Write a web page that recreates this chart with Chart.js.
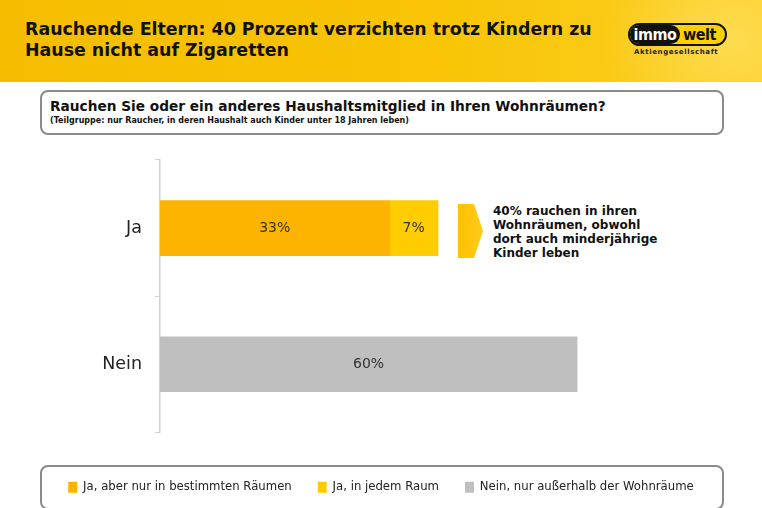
<!DOCTYPE html>
<html>
<head>
<meta charset="utf-8">
<script src="https://cdn.jsdelivr.net/npm/chart.js@4"></script>
<style>
  html, body { margin: 0; padding: 0; background: #fff; }
  #wrap { position: relative; width: 762px; height: 508px; overflow: hidden; font-family: "DejaVu Sans", sans-serif; }
  #header { position: absolute; left: 0; top: 0; width: 762px; height: 82px;
    background:
      radial-gradient(ellipse 130px 110px at 730px 40px, rgba(255,232,120,0.55), rgba(255,232,120,0) 100%),
      linear-gradient(90deg, #F6BD00 0%, #F8C404 55%, #FBCE22 100%); }
  #title { position: absolute; left: 25px; top: 19px; font-weight: bold; font-size: 17.4px; line-height: 21px; color: #111; }
  #logo { position: absolute; left: 628px; top: 23px; width: 95px; height: 19px; border: 2px solid #111; border-radius: 12px; background: #FFD000; overflow: hidden; font-family: "DejaVu Sans Condensed", "DejaVu Sans", sans-serif; font-weight: bold; font-size: 16px; line-height: 19px; }
  #logo .immo { position: absolute; left: 0; top: 0; height: 19px; width: 50px; background: #111; color: #fff; border-radius: 0 10px 10px 0; text-align: center; letter-spacing: -0.5px; }
  #logo .welt { position: absolute; left: 53px; top: 0; color: #111; letter-spacing: -0.5px; }
  #ag { position: absolute; left: 634px; top: 48px; font-family: "DejaVu Sans", sans-serif; font-weight: bold; font-size: 7px; letter-spacing: 0.6px; color: #222; }
  .box { position: absolute; left: 40px; width: 680px; border: 2px solid #8a8a8a; border-radius: 8px; background: #fff; }
  #qbox { top: 90px; height: 41px; }
  #q1 { position: absolute; left: 8px; top: 6px; font-weight: bold; font-size: 13.7px; color: #111; white-space: nowrap; }
  #q2 { position: absolute; left: 8px; top: 24px; font-weight: bold; font-size: 8px; color: #111; white-space: nowrap; }
  #lbox { top: 465px; height: 41px; }
  #arrow { position: absolute; left: 0; top: 0; }
  #note { position: absolute; left: 493px; top: 204px; font-weight: bold; font-size: 12px; line-height: 14px; color: #111; white-space: nowrap; }
  #c { position: absolute; left: 0; top: 0; }
</style>
</head>
<body>
<div id="wrap">
  <div id="header">
    <div id="title">Rauchende Eltern: 40 Prozent verzichten trotz Kindern zu<br>Hause nicht auf Zigaretten</div>
    <div id="logo"><span class="immo">immo</span><span class="welt">welt</span></div>
    <div id="ag">Aktiengesellschaft</div>
  </div>
  <div class="box" id="qbox">
    <div id="q1">Rauchen Sie oder ein anderes Haushaltsmitglied in Ihren Wohnräumen?</div>
    <div id="q2">(Teilgruppe: nur Raucher, in deren Haushalt auch Kinder unter 18 Jahren leben)</div>
  </div>
  <div class="box" id="lbox"></div>
  <svg id="arrow" width="762" height="508">
    <defs>
      <linearGradient id="ag1" x1="0" x2="1" y1="0" y2="0">
        <stop offset="0" stop-color="#FFC000"/>
        <stop offset="1" stop-color="#FFCB1A"/>
      </linearGradient>
    </defs>
    <polygon points="458,204 474,204 483,231 474,258 458,258" fill="url(#ag1)"/>
  </svg>
  <div id="note">40% rauchen in ihren<br>Wohnräumen, obwohl<br>dort auch minderjährige<br>Kinder leben</div>
  <canvas id="c" width="762" height="508"></canvas>
</div>
<script>
const categories = ["Ja", "Nein"];
const seriesNames = ["Ja, aber nur in bestimmten Räumen", "Ja, in jedem Raum", "Nein, nur außerhalb der Wohnräume"];
const teilweise = [33, null];
const jederRaum = [7, null];
const nein = [null, 60];
const seriesColors = ["#FDB400", "#FFCC00", "#BFBFBF"];

const labelPlugin = {
  id: 'barLabels',
  afterDatasetsDraw(chart) {
    const ctx = chart.ctx;
    ctx.save();
    ctx.font = '14px "DejaVu Sans"';
    ctx.fillStyle = '#333';
    ctx.textAlign = 'center';
    ctx.textBaseline = 'middle';
    chart.data.datasets.forEach((ds, i) => {
      const meta = chart.getDatasetMeta(i);
      meta.data.forEach((el, j) => {
        const v = ds.data[j];
        if (v === null || v === undefined) return;
        const p = el.getCenterPoint();
        ctx.fillText(v + '%', p.x, p.y);
      });
    });
    ctx.restore();
  }
};

new Chart(document.getElementById('c'), {
  type: 'bar',
  data: {
    labels: categories,
    datasets: [
      { label: seriesNames[0], data: teilweise, backgroundColor: seriesColors[0] },
      { label: seriesNames[1], data: jederRaum, backgroundColor: seriesColors[1] },
      { label: seriesNames[2], data: nein, backgroundColor: seriesColors[2] }
    ]
  },
  options: {
    indexAxis: 'y',
    responsive: false,
    animation: false,
    events: [],
    layout: { padding: { top: 160, right: 0, bottom: 5, left: 0 } },
    datasets: { bar: { barThickness: 55 } },
    scales: {
      x: {
        stacked: true, min: 0, max: 86.6,
        ticks: { display: false },
        grid: { display: false },
        border: { display: false },
        afterFit(s) { s.height = 23; }
      },
      y: {
        stacked: true,
        afterFit(s) { s.width = 160; },
        ticks: { color: '#222', font: { family: '"DejaVu Sans"', size: 17.5 }, padding: 13 },
        grid: { drawOnChartArea: false, drawTicks: true, tickLength: 5, color: '#D0D0D0', offset: true },
        border: { display: true, color: '#D0D0D0', width: 1.5 }
      }
    },
    plugins: {
      tooltip: { enabled: false },
      legend: {
        position: 'bottom',
        labels: {
          boxWidth: 9, boxHeight: 11, padding: 26,
          color: '#222',
          font: { family: '"DejaVu Sans"', size: 11.7 }
        }
      }
    }
  },
  plugins: [labelPlugin]
});
</script>
</body>
</html>
